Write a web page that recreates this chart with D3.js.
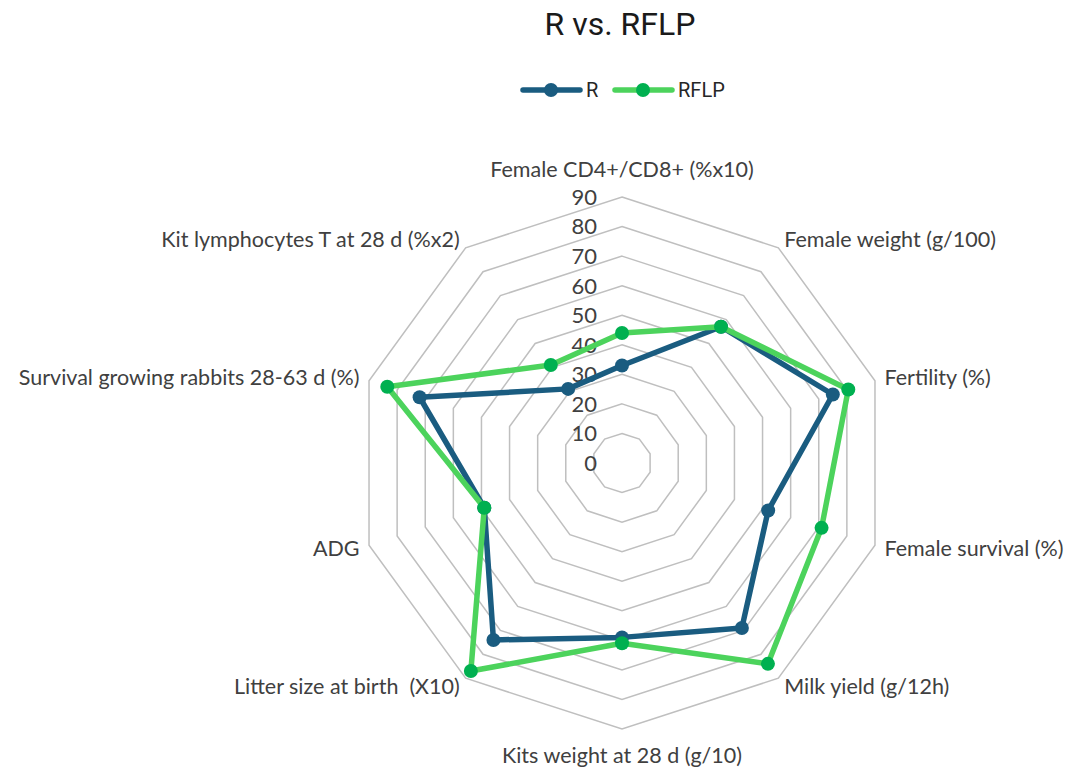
<!DOCTYPE html>
<html>
<head>
<meta charset="utf-8">
<script src="https://cdn.jsdelivr.net/npm/d3@7"></script>
<style>
  body { margin: 0; background: #fff; }
  text { font-family: Lato, "Open Sans", sans-serif; }
</style>
</head>
<body>
<div id="radar"></div>
<script>
// data
var categories = ["Female CD4+/CD8+ (%x10)", "Female weight (g/100)", "Fertility (%)",
  "Female survival (%)", "Milk yield (g/12h)", "Kits weight at 28 d (g/10)",
  "Litter size at birth  (X10)", "ADG", "Survival growing rabbits 28-63 d (%)",
  "Kit lymphocytes T at 28 d (%x2)"];
var seriesNames = ["R", "RFLP"];
var valuesR    = [33, 57, 75, 52, 69, 59, 74, 49, 72, 31];
var valuesRFLP = [44, 57, 80.5, 71, 84, 61, 87, 49, 83.5, 41];
var tickValues = [0, 10, 20, 30, 40, 50, 60, 70, 80, 90];

var width = 1077, height = 767;
var cx = 622, cy = 463, R = 266;

var svg = d3.select("#radar")
  .append("svg")
    .attr("width", width)
    .attr("height", height);

var r = d3.scaleLinear().domain([0, 90]).range([0, R]);
var angle = d3.scaleLinear().domain([0, categories.length]).range([0, 2 * Math.PI]);

function pt(i, v) {
  var a = angle(i);
  return [cx + r(v) * Math.sin(a), cy - r(v) * Math.cos(a)];
}

// grid rings
var g = svg.append("g");
tickValues.slice(1).forEach(function (t) {
  var pts = categories.map(function (c, i) { return pt(i, t); });
  g.append("polygon")
    .attr("points", pts.map(function (p) { return p.join(","); }).join(" "))
    .style("fill", "none")
    .style("stroke", "#bfbfbf")
    .style("stroke-width", 1.5);
});

// tick labels
g.selectAll(".tick")
  .data(tickValues)
  .enter()
  .append("text")
    .attr("x", cx - 25)
    .attr("y", function (d) { return cy - r(d); })
    .attr("dy", "0.36em")
    .attr("text-anchor", "end")
    .style("font-size", "22px")
    .style("fill", "#404040")
    .text(function (d) { return d; });

// category labels
categories.forEach(function (c, i) {
  var a = angle(i);
  var s = Math.sin(a), co = Math.cos(a);
  var x = cx + (R + 10) * s, y = cy - (R + 10) * co;
  var anchor = "middle";
  if (s > 0.01) anchor = "start";
  if (s < -0.01) anchor = "end";
  if (Math.abs(s) < 0.01) y += co > 0 ? -18 : 16;
  svg.append("text")
    .attr("x", x)
    .attr("y", y)
    .attr("dy", "0.35em")
    .attr("text-anchor", anchor)
    .style("font-size", "21.5px")
    .style("fill", "#404040")
    .style("white-space", "pre")
    .text(c);
});

// series
var lineColors = ["#1a5c80", "#4cd35c"];
var markColors = ["#1a5c80", "#00b050"];
var line = d3.line().curve(d3.curveLinearClosed);

[valuesR, valuesRFLP].forEach(function (vals, k) {
  var pts = vals.map(function (v, i) { return pt(i, v); });
  svg.append("path")
    .attr("d", line(pts))
    .style("fill", "none")
    .style("stroke", lineColors[k])
    .style("stroke-width", 5.5)
    .style("stroke-linejoin", "round");
  svg.append("g")
    .selectAll("circle")
    .data(pts)
    .enter()
    .append("circle")
      .attr("cx", function (d) { return d[0]; })
      .attr("cy", function (d) { return d[1]; })
      .attr("r", 7)
      .style("fill", markColors[k]);
});

// title
svg.append("text")
  .attr("x", cx - 2)
  .attr("y", 35)
  .attr("text-anchor", "middle")
  .style("font-family", "Roboto, sans-serif")
  .style("font-size", "32px")
  .style("fill", "#1a1a1a")
  .text("R vs. RFLP");

// legend
var legX = [523, 615];
seriesNames.forEach(function (n, k) {
  var lg = svg.append("g").attr("transform", "translate(" + legX[k] + ",90)");
  lg.append("line")
    .attr("x1", 0).attr("x2", 57)
    .style("stroke", lineColors[k])
    .style("stroke-width", 5.5)
    .style("stroke-linecap", "round");
  lg.append("circle")
    .attr("cx", 28).attr("r", 7)
    .style("fill", markColors[k]);
  lg.append("text")
    .attr("x", 63)
    .attr("dy", "0.36em")
    .style("font-family", "Roboto, sans-serif")
    .style("font-size", "20px")
    .style("fill", "#262626")
    .text(n);
});
</script>
</body>
</html>
